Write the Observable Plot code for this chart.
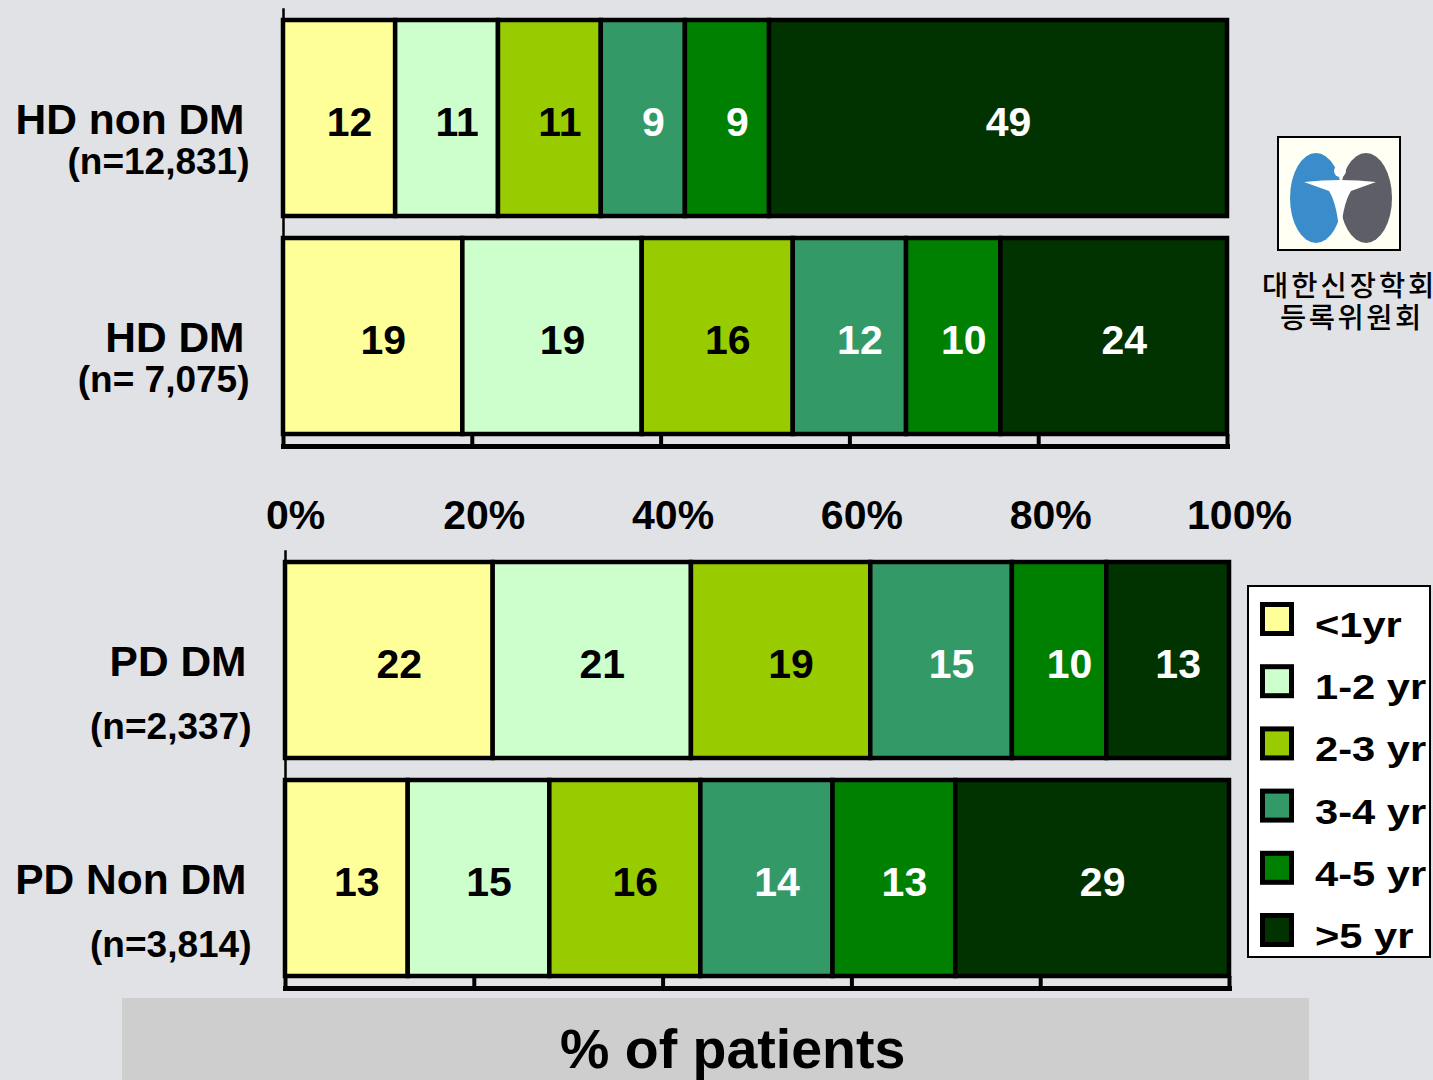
<!DOCTYPE html>
<html><head><meta charset="utf-8">
<script src="https://cdn.jsdelivr.net/npm/d3@7"></script>
<script src="https://cdn.jsdelivr.net/npm/@observablehq/plot@0.6"></script>
<style>
html,body{margin:0;padding:0;background:#e1e2e6;overflow:hidden;width:1433px;height:1080px;}
#root{position:relative;width:1433px;height:1080px;font-family:"Liberation Sans",Arial,sans-serif;}
.abs{position:absolute;}
</style></head><body><div id="root"></div>
<script>
const categories = ["<1yr","1-2 yr","2-3 yr","3-4 yr","4-5 yr",">5 yr"];
const colors = ["#FFFF99","#CCFFCC","#99CC00","#339966","#008000","#003300"];
const darkCategories = ["3-4 yr","4-5 yr",">5 yr"];
const hdGroups = ["HD non DM","HD DM"];
const hdN = ["(n=12,831)","(n= 7,075)"];
const hdValues = [[12,11,11,9,9,49],[19,19,16,12,10,24]];
const pdGroups = ["PD DM","PD Non DM"];
const pdN = ["(n=2,337)","(n=3,814)"];
const pdValues = [[22,21,19,15,10,13],[13,15,16,14,13,29]];
const ticks = [0,0.2,0.4,0.6,0.8,1];
const tickLabels = ["0%","20%","40%","60%","80%","100%"];
const xTitle = "% of patients";
const logoText = ["대한신장학회","등록위원회"];

const root = document.getElementById("root");
const FONT = '"Liberation Sans", Arial, sans-serif';

function makePanel(o){
  const rows = [];
  o.groups.forEach((g,i)=>categories.forEach((c,j)=>rows.push({group:g, cat:c, value:o.values[i][j], dark: darkCategories.includes(c)})));
  const frameH = o.height - o.marginTop - o.marginBottom;
  const stack = (extra)=>Plot.stackX({x:"value", y:"group", z:"cat", offset:"normalize", ...extra});
  const marks = [
    Plot.frame({anchor:"left", strokeWidth:2.5}),
    Plot.barX(rows, stack({fill:"cat", stroke:"black", strokeWidth:4.5})),
    Plot.tickX(ticks, {x:d=>d, insetTop: frameH-12, strokeWidth:4}),
    Plot.frame({anchor:"bottom", strokeWidth:5}),
    Plot.text(rows, stack({text:d=>d.dark?"":String(d.value), fill:"black", fontSize:41, dx:10, dy:4})),
    Plot.text(rows, stack({text:d=>d.dark?String(d.value):"", fill:"white", fontSize:41, dx:10, dy:4})),
    Plot.text(o.groups, {y:d=>d, text:d=>d, frameAnchor:"left", textAnchor:"end", dx:-39, dy:2, fontSize:42.5, fill:"black"}),
    Plot.text(o.groups, {y:d=>d, text:(d,i)=>o.ns[i], frameAnchor:"left", textAnchor:"end", dx:-34, dy:o.nDy, fontSize:37, fill:"black"})
  ];
  if (o.showAxis) marks.push(Plot.axisX(ticks, {tickSize:0, tickPadding:53, label:null, tickFormat:d=>tickLabels[ticks.indexOf(d)], fontSize:41, dx:12, fill:"black"}));
  const svg = Plot.plot({
    width:1433, height:o.height,
    marginLeft:283, marginRight:206, marginTop:o.marginTop, marginBottom:o.marginBottom,
    x:{domain:[0,1], axis:null, label:null},
    y:{domain:o.groups, paddingInner:0.1, paddingOuter:0.05, axis:null},
    color:{domain:categories, range:colors},
    style:{background:"transparent", fontFamily:FONT, fontWeight:"bold", color:"black", maxWidth:"none", overflow:"visible"},
    marks
  });
  const div = document.createElement("div");
  div.className = "abs";
  div.style.left = o.left+"px"; div.style.top = o.top+"px";
  div.appendChild(svg);
  root.appendChild(div);
}

makePanel({groups:hdGroups, ns:hdN, values:hdValues, top:0, left:0, height:545, marginTop:9, marginBottom:99, nDy:43.5, showAxis:true});
makePanel({groups:pdGroups, ns:pdN, values:pdValues, top:540, left:2, height:460, marginTop:11, marginBottom:12, nDy:67, showAxis:false});

// overlay: footer, legend, logo
const ov = d3.select(root).append("svg").attr("class","abs").style("left","0px").style("top","0px")
  .attr("width",1433).attr("height",1080).style("font-family",FONT);

ov.append("rect").attr("x",122).attr("y",998).attr("width",1187).attr("height",90).attr("fill","#cecece");
ov.append("text").attr("x",560).attr("y",1068).attr("font-size",55.5).attr("font-weight","bold").attr("fill","black").text(xTitle);

// legend
ov.append("rect").attr("x",1248).attr("y",586).attr("width",182).attr("height",371).attr("fill","white").attr("stroke","black").attr("stroke-width",2);
categories.forEach((c,i)=>{
  const y0 = 602 + i*62.2;
  ov.append("rect").attr("x",1262.5).attr("y",y0+2.5).attr("width",29).attr("height",29).attr("fill",colors[i]).attr("stroke","black").attr("stroke-width",5);
  ov.append("text").attr("transform",`translate(1315,${y0+35}) scale(1.19,1)`).attr("font-size",35).attr("font-weight","bold").attr("fill","black").text(c);
});

// logo
ov.append("rect").attr("x",1278).attr("y",137).attr("width",122).attr("height",113).attr("fill","#fffff4").attr("stroke","black").attr("stroke-width",2);
ov.append("ellipse").attr("cx",1316).attr("cy",198).attr("rx",26).attr("ry",45).attr("fill","#3b8ccb");
ov.append("ellipse").attr("cx",1366).attr("cy",198).attr("rx",26).attr("ry",45).attr("fill","#5e5e66");
ov.append("circle").attr("cx",1340).attr("cy",171).attr("r",6).attr("fill","white");
ov.append("path").attr("d","M1304,182 Q1340,178 1376,182 L1351,191 Q1342,205 1340,242 Q1338,205 1329,191 Z").attr("fill","white");
ov.append("text").attr("x",1262).attr("y",296).attr("font-size",28.5).attr("font-weight",500).attr("letter-spacing",3).attr("font-family",'"Noto Sans CJK KR"').attr("fill","black").text(logoText[0]);
ov.append("text").attr("x",1280).attr("y",328).attr("font-size",28.5).attr("font-weight",500).attr("letter-spacing",2.5).attr("font-family",'"Noto Sans CJK KR"').attr("fill","black").text(logoText[1]);
</script>
</body></html>
